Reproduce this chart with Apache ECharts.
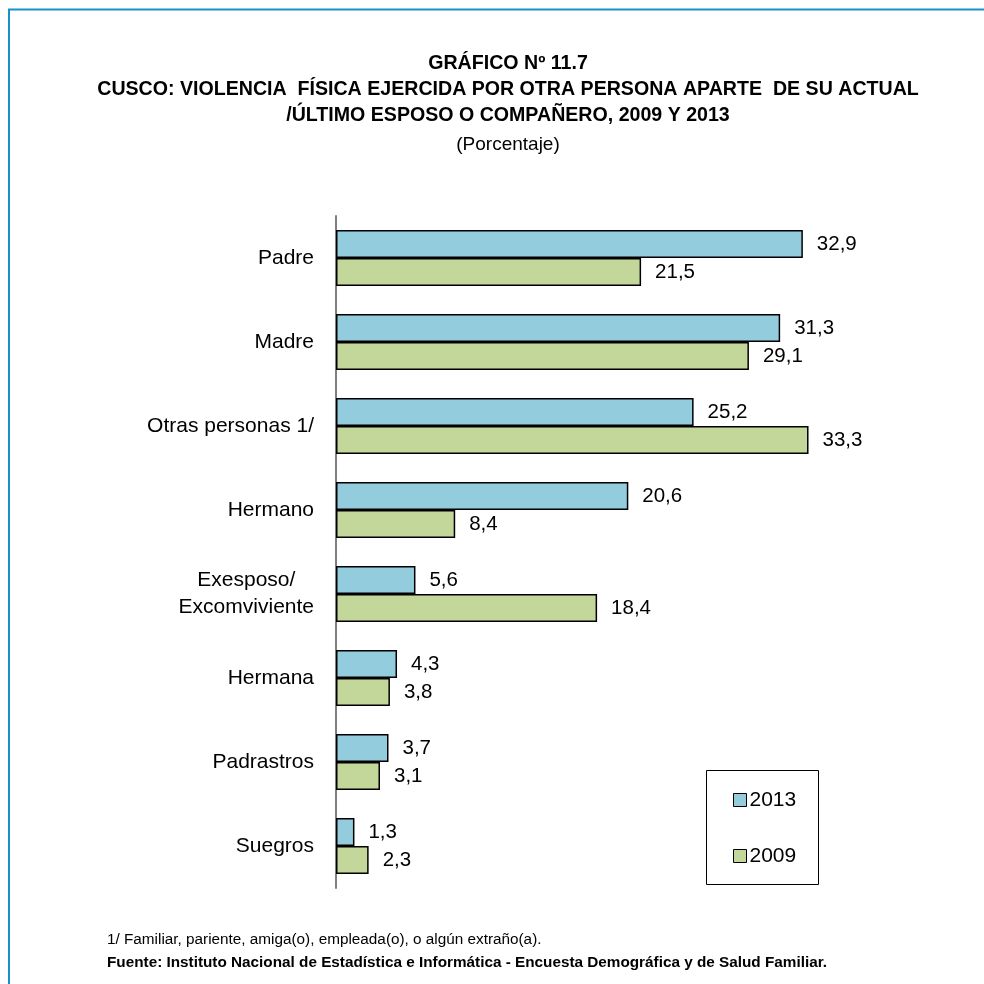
<!DOCTYPE html>
<html>
<head>
<meta charset="utf-8">
<script src="https://cdn.jsdelivr.net/npm/echarts@6/dist/echarts.min.js"></script>
<style>html,body{margin:0;padding:0;background:#fff}#c{width:984px;height:984px}</style>
</head>
<body>
<div id="c"></div>
<script>
const categories = ['Padre', 'Madre', 'Otras personas 1/', 'Hermano', 'Exesposo/\nExcomviviente', 'Hermana', 'Padrastros', 'Suegros'];
const values2013 = [32.9, 31.3, 25.2, 20.6, 5.6, 4.3, 3.7, 1.3];
const values2009 = [21.5, 29.1, 33.3, 8.4, 18.4, 3.8, 3.1, 2.3];
const seriesNames = ['2013', '2009'];

const FONT = '"Liberation Sans", Arial, sans-serif';
const chart = echarts.init(document.getElementById('c'), null, {renderer: 'canvas'});
const labelCfg = {
  show: true, position: 'right', distance: 14,
  fontFamily: FONT, fontSize: 20.5, color: '#000',
  formatter: p => String(p.value).replace('.', ',')
};
chart.setOption({
  animation: false,
  backgroundColor: '#fff',
  title: [
    {text: 'GRÁFICO Nº 11.7\nCUSCO: VIOLENCIA  FÍSICA EJERCIDA POR OTRA PERSONA APARTE  DE SU ACTUAL\n/ÚLTIMO ESPOSO O COMPAÑERO, 2009 Y 2013',
     left: 503, top: 46, textAlign: 'center',
     textStyle: {fontFamily: FONT, fontWeight: 'bold', fontSize: 19.6, lineHeight: 26, color: '#000'}},
    {text: '(Porcentaje)', left: 503, top: 130, textAlign: 'center',
     textStyle: {fontFamily: FONT, fontWeight: 'normal', fontSize: 19, color: '#000'}}
  ],
  graphic: [
    {type: 'line', shape: {x1: 8, y1: 9.5, x2: 984, y2: 9.5}, style: {stroke: '#1a8fc8', lineWidth: 2}},
    {type: 'line', shape: {x1: 9, y1: 9, x2: 9, y2: 984}, style: {stroke: '#1a8fc8', lineWidth: 2}},
    {type: 'rect', shape: {x: 706.5, y: 770.5, width: 112, height: 114}, style: {fill: '#fff', stroke: '#000', lineWidth: 1}, z: 0},
    {type: 'text', left: 107, top: 932, style: {text: '1/ Familiar, pariente, amiga(o), empleada(o), o algún extraño(a).', fontFamily: FONT, fontSize: 15.3, fill: '#000'}},
    {type: 'text', left: 107, top: 955, style: {text: 'Fuente: Instituto Nacional de Estadística e Informática - Encuesta Demográfica y de Salud Familiar.', fontFamily: FONT, fontSize: 15.3, fontWeight: 'bold', fill: '#000'}}
  ],
  legend: {
    orient: 'vertical', left: 733, top: 788, padding: 0, itemGap: 32,
    icon: 'rect', itemWidth: 13, itemHeight: 13,
    itemStyle: {borderColor: '#000', borderWidth: 1},
    textStyle: {fontFamily: FONT, fontSize: 21, color: '#000', padding: [0, 0, 0, -2], height: 24, lineHeight: 24},
    data: seriesNames, z: 5
  },
  grid: {left: 336, top: 216, width: 567.6, height: 672, containLabel: false},
  xAxis: {type: 'value', min: 0, max: 40, show: false},
  yAxis: {
    type: 'category', inverse: true, data: categories,
    axisLine: {show: true, lineStyle: {color: '#808080', width: 2}},
    axisTick: {show: false},
    axisLabel: {
      margin: 22, fontFamily: FONT, fontSize: 21, color: '#000', lineHeight: 27,
      formatter: v => v.indexOf('\n') >= 0 ? '{c|' + v.split('\n').join('}\n{c|') + '}' : v,
      rich: {c: {fontFamily: FONT, fontSize: 21, color: '#000', lineHeight: 27, align: 'center'}}
    }
  },
  series: [
    {name: seriesNames[0], type: 'bar', data: values2013, barWidth: 28, barGap: '0%',
     itemStyle: {color: '#93cddd', borderColor: '#000', borderWidth: 1.5}, label: labelCfg},
    {name: seriesNames[1], type: 'bar', data: values2009, barWidth: 28, barGap: '0%',
     itemStyle: {color: '#c4d79b', borderColor: '#000', borderWidth: 1.5}, label: labelCfg}
  ]
});
</script>
</body>
</html>
